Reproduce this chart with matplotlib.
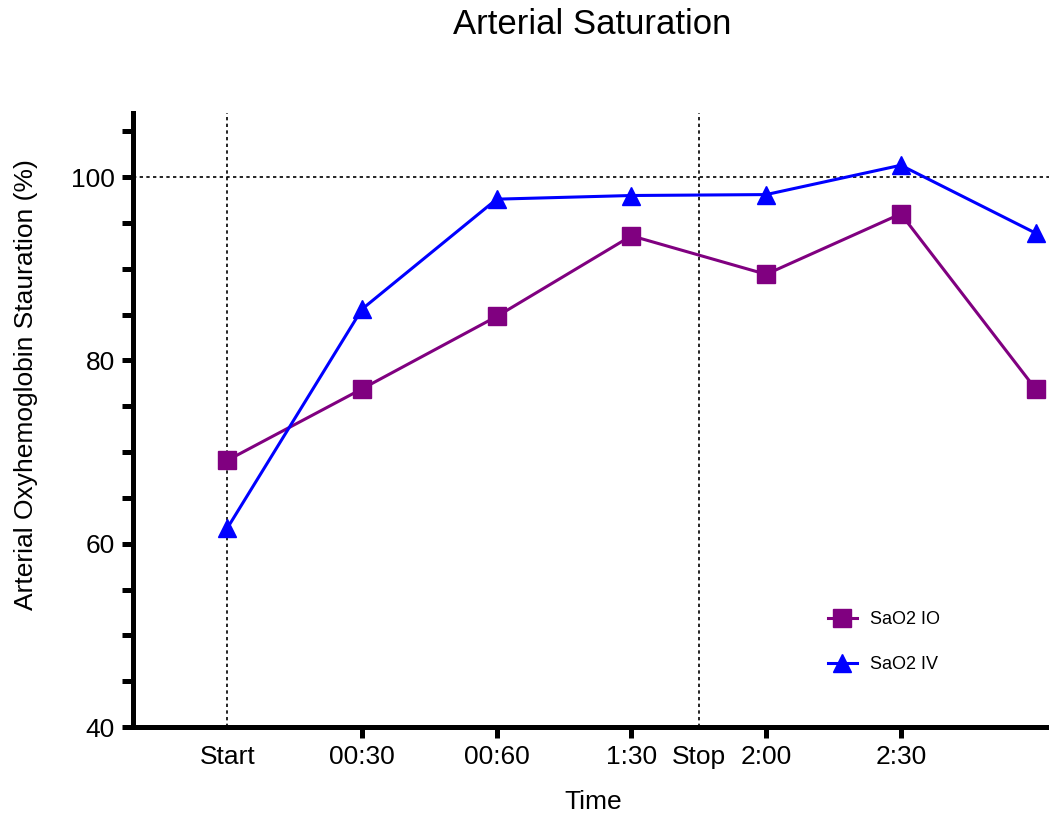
import numpy as np
import matplotlib.pyplot as plt

plt.rcParams['font.family'] = ['Liberation Sans', 'DejaVu Sans']

x_pos = [0, 1, 2, 3, 4, 5, 6]
sao2_io = [69.1, 76.9, 84.8, 93.6, 89.4, 96.0, 76.9]
sao2_iv = [61.7, 85.6, 97.6, 98.0, 98.1, 101.3, 93.9]

tick_pos = [0, 1, 2, 3, 3.5, 4, 5]
tick_labels = ['Start', '00:30', '00:60', '1:30', 'Stop', '2:00', '2:30']
no_tick = ['Start', 'Stop']
ref_x = [0, 3.5]
ref_y = 100


fig = plt.figure(figsize=(10.49, 8.19), dpi=100)
ax = fig.add_axes([0.1268, 0.1123, 0.8732, 0.7497])

ax.axhline(ref_y, color='black', linestyle=(0, (2, 2)), linewidth=1.2, zorder=1)
for xv in ref_x:
    ax.axvline(xv, color='black', linestyle=(0, (2, 2)), linewidth=1.2, zorder=1)

ax.plot(x_pos, sao2_io, color='#800080', marker='s', markersize=13,
        linewidth=2.2, label='SaO2 IO', zorder=3, clip_on=False)
ax.plot(x_pos, sao2_iv, color='#0000FF', marker='^', markersize=13,
        linewidth=2.2, label='SaO2 IV', zorder=3, clip_on=False)

ax.set_xlim(-0.7, 6.1)
ax.set_ylim(40, 107)
ax.set_yticks([40, 60, 80, 100])
ax.set_yticks([45, 50, 55, 65, 70, 75, 85, 90, 95, 105], minor=True)
ax.set_xticks(tick_pos)
ax.set_xticklabels(tick_labels)
for t, lab in zip(ax.xaxis.get_major_ticks(), tick_labels):
    if lab in no_tick:
        t.tick1line.set_visible(False)

for s in ['top', 'right']:
    ax.spines[s].set_visible(False)
for s in ['left', 'bottom']:
    ax.spines[s].set_linewidth(3.6)

ax.tick_params(axis='both', which='major', length=8, width=3.6, labelsize=19, pad=5)
ax.tick_params(axis='y', which='minor', length=8, width=3.6)
ax.tick_params(axis='x', pad=5)

ax.set_xlabel('Time', fontsize=19)
ax.xaxis.set_label_coords(0.502, -0.103)
ax.set_ylabel('Arterial Oxyhemoglobin Stauration (%)', fontsize=19)
ax.yaxis.set_label_coords(-0.104, 0.557)
fig.suptitle('Arterial Saturation', fontsize=25, x=0.565, y=0.99)

ax.legend(loc='upper left', bbox_to_anchor=(828 / 1049, 1 - 611 / 819),
          bbox_transform=fig.transFigure, frameon=False, borderpad=0,
          borderaxespad=0, fontsize=13, markerscale=1.0, handlelength=1.6,
          handletextpad=0.7, labelspacing=1.55)

fig.savefig('out.png', dpi=100)
